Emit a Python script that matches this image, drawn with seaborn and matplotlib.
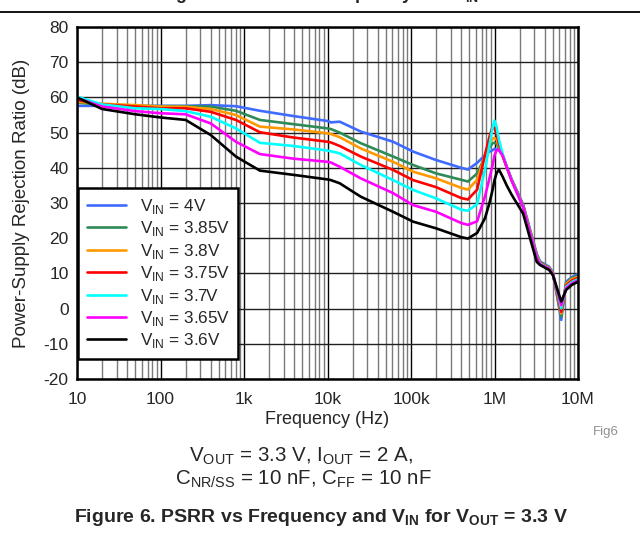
import numpy as np
import pandas as pd
import matplotlib
matplotlib.use("Agg")
import matplotlib.pyplot as plt
from matplotlib.lines import Line2D
from matplotlib.ticker import FixedLocator, LogLocator, NullFormatter
import seaborn as sns

# Frequencies (Hz)
FREQ_HZ = [10, 20, 50, 100, 200, 400, 800, 1550, 3900, 10e3, 11e3, 14e3, 25e3,
           61e3, 106e3, 200e3, 400e3, 480e3, 620e3, 770e3, 870e3, 950e3, 1.0e6,
           1.06e6, 1.13e6, 1.25e6, 1.4e6, 1.6e6, 2.2e6, 3.2e6, 3.5e6, 4.5e6,
           5.0e6, 6.3e6, 7.2e6, 8.5e6, 10e6]

# PSRR (dB) for each VIN
PSRR_4V00 = [57.6, 57.6, 57.5, 57.6, 57.6, 57.8, 57.5, 56.2, 54.7, 53.3, 52.9, 53.1, 50.3,
             47.4, 44.6, 42.2, 40.0, 39.5, 41.4, 43.6, 44.6, 45.0, 45.4, 45.3, 45.0, 43.5,
             40.2, 36.8, 29.6, 15.6, 13.4, 11.9, 10.3, -3.2, 7.6, 9.0, 9.8]
PSRR_3V85 = [58.5, 58.0, 57.6, 57.5, 57.5, 57.4, 56.2, 53.6, 52.4, 51.2, 51.0, 50.0, 47.0,
             43.2, 40.8, 38.4, 36.6, 36.1, 38.4, 43.2, 45.8, 47.0, 47.1, 46.8, 45.6, 43.5,
             40.2, 36.7, 29.4, 15.4, 13.2, 11.7, 10.1, -2.3, 7.3, 8.7, 9.4]
PSRR_3V80 = [58.8, 58.2, 57.8, 57.4, 57.3, 56.7, 55.0, 51.7, 50.9, 49.8, 49.6, 48.7, 45.5,
             41.7, 38.9, 37.0, 34.3, 33.8, 36.6, 43.5, 46.8, 48.3, 48.5, 48.0, 46.3, 43.6,
             40.2, 36.6, 29.3, 15.2, 13.0, 11.6, 10.0, -1.4, 7.0, 8.4, 9.0]
PSRR_3V75 = [59.3, 58.0, 57.4, 56.9, 56.9, 55.9, 53.6, 50.1, 48.6, 47.4, 47.2, 46.2, 43.2,
             39.4, 36.5, 34.5, 31.4, 31.0, 33.8, 43.8, 48.8, 51.8, 51.2, 49.5, 46.8, 43.6,
             40.2, 36.5, 29.2, 15.0, 12.9, 11.5, 9.9, -0.9, 6.6, 8.0, 8.7]
PSRR_3V70 = [60.2, 58.0, 56.9, 56.7, 56.1, 54.5, 51.2, 47.1, 46.2, 44.9, 44.7, 44.1, 40.8,
             36.5, 33.7, 31.3, 28.1, 27.8, 29.7, 39.5, 46.5, 51.5, 53.4, 51.5, 48.0, 44.0,
             40.4, 36.5, 29.0, 14.8, 12.8, 11.4, 9.8, 0.1, 6.2, 7.6, 8.3]
PSRR_3V65 = [59.8, 57.4, 56.1, 55.5, 55.2, 52.6, 47.4, 43.9, 42.6, 41.7, 41.5, 40.3, 37.0,
             32.8, 29.4, 27.5, 24.3, 23.8, 24.8, 31.9, 37.0, 40.8, 43.5, 45.0, 45.1, 43.5,
             40.3, 36.4, 28.8, 14.5, 12.6, 11.3, 9.7, 1.0, 5.8, 7.2, 8.0]
PSRR_3V60 = [60.0, 56.7, 55.2, 54.3, 53.6, 49.3, 43.2, 39.2, 38.0, 36.7, 36.5, 35.6, 31.8,
             27.5, 24.7, 22.8, 20.3, 19.9, 21.5, 25.7, 30.0, 33.8, 36.5, 38.5, 39.5, 37.5,
             35.0, 32.4, 27.0, 13.3, 12.4, 11.0, 9.5, 2.0, 5.3, 6.8, 7.6]

SERIES_NAMES = ["4V", "3.85V", "3.8V", "3.75V", "3.7V", "3.65V", "3.6V"]
SERIES_VALUES = [PSRR_4V00, PSRR_3V85, PSRR_3V80, PSRR_3V75, PSRR_3V70, PSRR_3V65, PSRR_3V60]
COLORS = ["#3F6BFF", "#2E8B57", "#FF9900", "#FF0000", "#00FFFF", "#FF00FF", "#000000"]

X_TICKS = [10, 100, 1e3, 1e4, 1e5, 1e6, 1e7]
X_TICK_LABELS = ["10", "100", "1k", "10k", "100k", "1M", "10M"]
Y_TICKS = list(range(-20, 81, 10))

# long-form table for seaborn
df = pd.concat(
    [pd.DataFrame({"freq": FREQ_HZ, "psrr": vals, "vin": name})
     for name, vals in zip(SERIES_NAMES, SERIES_VALUES)],
    ignore_index=True,
)

sns.set_style("white")
plt.rcParams["font.family"] = ["Liberation Sans", "DejaVu Sans"]
plt.rcParams["mathtext.fontset"] = "custom"
plt.rcParams["mathtext.rm"] = "Liberation Sans"
plt.rcParams["mathtext.bf"] = "Liberation Sans:bold"

fig = plt.figure(figsize=(6.4, 5.37), dpi=100)
ax = fig.add_axes([77 / 640, 158 / 537, 501 / 640, 352 / 537])

sns.lineplot(data=df, x="freq", y="psrr", hue="vin", hue_order=SERIES_NAMES,
             palette=COLORS, linewidth=1.9, legend=False, ax=ax)

ax.set_xscale("log")
ax.set_xlim(10, 1e7)
ax.set_ylim(-20, 80)

ax.xaxis.set_major_locator(FixedLocator(X_TICKS))
ax.set_xticklabels(X_TICK_LABELS)
ax.xaxis.set_minor_locator(LogLocator(base=10, subs=np.arange(2, 10)))
ax.xaxis.set_minor_formatter(NullFormatter())
ax.set_yticks(Y_TICKS)
ax.set_yticklabels([str(v) for v in Y_TICKS])

ax.set_axisbelow(True)
ax.grid(True, which="major", axis="x", color="black", linewidth=1.0)
ax.grid(True, which="minor", axis="x", color="#7a7a7a", linewidth=1.0)
ax.grid(True, which="major", axis="y", color="#202020", linewidth=1.0)

ax.tick_params(axis="both", which="both", length=0, labelsize=12.5)
ax.tick_params(axis="x", pad=9)
ax.tick_params(axis="y", pad=6)
for sp in ax.spines.values():
    sp.set_color("black")
    sp.set_linewidth(1.8)

ax.set_xlabel("Frequency (Hz)", fontsize=13)
ax.xaxis.set_label_coords(0.5, -0.092)
ax.set_ylabel("Power-Supply Rejection Ratio (dB)", fontsize=13.5)
ax.yaxis.set_label_coords(-0.093, 0.5)

labels = ["V$_{\\mathrm{IN}}$ = " + n for n in SERIES_NAMES]
leg = ax.legend(handles=ax.lines[:len(SERIES_NAMES)], labels=labels,
                loc="lower left", bbox_to_anchor=(0.002, 0.057), borderaxespad=0,
                fontsize=12.3, frameon=True, fancybox=False, framealpha=1,
                edgecolor="black", handlelength=2.3, handletextpad=0.8,
                labelspacing=0.2, borderpad=0.5)
leg.get_frame().set_linewidth(1.8)

# cut-off caption of the previous figure (only its lowest part shows) and separator line
fig.text(0.5, 1 + 1.0 / 537, "Figure 5. PSRR vs Frequency and V$_{\\mathbf{IN}}$",
         ha="center", va="baseline", fontsize=13, fontweight="bold")
fig.add_artist(Line2D([0, 1], [1 - 12 / 537, 1 - 12 / 537], color="black", linewidth=1.3))

fig.text(606 / 640, 1 - 432 / 537, "Fig6", ha="center", va="center",
         fontsize=9.5, color="#909090")
fig.text(301 / 640, 1 - 456 / 537,
         "V$_{\\mathrm{OUT}}$ = 3.3 V, I$_{\\mathrm{OUT}}$ = 2 A,",
         ha="center", va="center", fontsize=14.8)
fig.text(303 / 640, 1 - 479 / 537,
         "C$_{\\mathrm{NR/SS}}$ = 10 nF, C$_{\\mathrm{FF}}$ = 10 nF",
         ha="center", va="center", fontsize=14.8)
fig.text(321 / 640, 1 - 518 / 537,
         "Figure 6. PSRR vs Frequency and V$_{\\mathbf{IN}}$ for V$_{\\mathbf{OUT}}$ = 3.3 V",
         ha="center", va="center", fontsize=14, fontweight="bold")

fig.savefig("out.png", dpi=100)
plt.close(fig)
